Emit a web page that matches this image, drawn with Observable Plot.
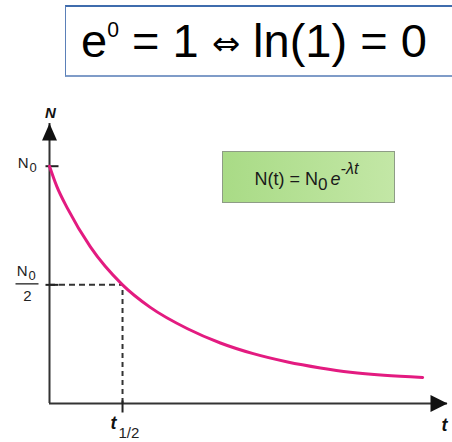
<!DOCTYPE html>
<html>
<head>
<meta charset="utf-8">
<script src="https://cdn.jsdelivr.net/npm/d3@7"></script>
<script src="https://cdn.jsdelivr.net/npm/@observablehq/plot@0.6"></script>
<style>
  html, body { margin: 0; padding: 0; background: #fff; overflow: hidden; }
  body { width: 452px; height: 442px; position: relative; font-family: "Liberation Sans", Arial, sans-serif; }
  #identity { position: absolute; left: 65px; top: 5px; width: 387px; height: 72px; box-sizing: border-box;
    border-top: 2px solid #3f6cad; border-left: 1.5px solid #5b80b8; border-bottom: 2px solid #7f9cc8;
    font-size: 47px; line-height: 68px; padding-left: 15px; color: #000; white-space: nowrap; }
  #identity sup { font-size: 0.45em; vertical-align: 0; position: relative; top: -0.95em; }
  #identity .iff { font-family: "DejaVu Sans", sans-serif; font-size: 0.72em; position: relative; top: -0.06em; }
  #header { height: 82px; }
  #chart svg { display: block; }
  #formula { position: absolute; left: 222px; top: 151px; width: 173px; height: 52px; box-sizing: border-box;
    border: 1px solid #8e9c86; background: linear-gradient(to right, #a9db86, #c3e7a6);
    font-size: 18px; color: #1a1a1a; display: flex; align-items: center; justify-content: center; white-space: nowrap; }
  #formula .expr { position: relative; top: 2px; left: -2px; }
  #formula sub { font-size: 0.95em; vertical-align: -0.3em; line-height: 0; }
  #formula sup { font-size: 0.9em; vertical-align: 0.7em; line-height: 0; font-style: italic; }
  #formula .e { font-style: italic; margin-left: 3px; }
</style>
</head>
<body>
<div id="header"><div id="identity"></div></div>
<div id="chart"></div>
<div id="formula"></div>
<script>
// Decay curve N(t), with t in half-lives and N as a fraction of N0
const tValues = [0, 0.1, 0.25, 0.56, 1.0, 1.38, 1.89, 2.34, 2.79, 3.26, 3.71, 4.12, 4.58, 5.11];
const nValues = [1.0, 0.915, 0.82, 0.66, 0.50, 0.405, 0.315, 0.255, 0.21, 0.175, 0.15, 0.132, 0.119, 0.110];

// Axis extents (arrow tips) and marked points
const tMax = 5.45;
const nMax = 1.18;
const n0 = 1;
const nHalf = 0.5;
const tHalf = 1;

// Texts
const yAxisName = "N";
const xAxisName = "t";
const n0Label = ["N", "0"];
const halfDenominator = "2";
const tHalfLabel = ["t", "1/2"];
const identityHtml = "e<sup>0</sup> = 1 <span class='iff'>\u21d4</span> ln(1) = 0";
const formulaHtml = "<span class='expr'>N(t) = N<sub>0</sub><span class='e'>e</span><sup>-\u03bbt</sup></span>";

document.getElementById("identity").innerHTML = identityHtml;
document.getElementById("formula").innerHTML = formulaHtml;

const ink = "#333";
const curveColor = "#e31b80";
const font = "Liberation Sans, Arial, sans-serif";

// Custom symbols: filled arrowheads (tip at the anchor) and short tick strokes
const arrowUp = {draw(c) { c.moveTo(0, 0); c.lineTo(7.5, 17); c.lineTo(-7.5, 17); c.closePath(); }};
const arrowRight = {draw(c) { c.moveTo(0, 0); c.lineTo(-17, -8.5); c.lineTo(-17, 8.5); c.closePath(); }};
const tickRight = {draw(c) { c.moveTo(-4, 0); c.lineTo(9, 0); }};
const tickDown = {draw(c) { c.moveTo(0, -3); c.lineTo(0, 9); }};
const fractionBar = {draw(c) { c.moveTo(-34, -1); c.lineTo(-11, -1); }};

const idx = d3.range(tValues.length);

const chart = Plot.plot({
  width: 452,
  height: 360,
  marginLeft: 49,
  marginRight: 5,
  marginTop: 41,
  marginBottom: 39,
  x: {domain: [0, tMax], axis: null},
  y: {domain: [0, nMax], axis: null},
  style: {fontFamily: font, background: "transparent"},
  marks: [
    // dashed guides to the half-life point
    Plot.ruleY([nHalf], {x1: 0, x2: tHalf, stroke: ink, strokeWidth: 2, strokeDasharray: "6,4"}),
    Plot.ruleX([tHalf], {y1: 0, y2: nHalf, stroke: ink, strokeWidth: 2, strokeDasharray: "5,4"}),
    // axes
    Plot.ruleY([0], {x1: 0, x2: tMax, stroke: ink, strokeWidth: 2}),
    Plot.ruleX([0], {y1: 0, y2: nMax, stroke: ink, strokeWidth: 2}),
    Plot.dot([[tMax, 0]], {x: d => d[0], y: d => d[1], symbol: arrowRight, fill: "#111", stroke: "none"}),
    Plot.dot([[0, nMax]], {x: d => d[0], y: d => d[1], symbol: arrowUp, fill: "#111", stroke: "none"}),
    // ticks
    Plot.dot([n0, nHalf], {x: 0, y: d => d, symbol: tickRight, fill: "none", stroke: "#222", strokeWidth: 2}),
    Plot.dot([tHalf], {x: d => d, y: 0, symbol: tickDown, fill: "none", stroke: "#222", strokeWidth: 2}),
    Plot.dot([nHalf], {x: 0, y: d => d, symbol: fractionBar, fill: "none", stroke: "#222", strokeWidth: 1.3}),
    // decay curve
    Plot.line(idx, {x: i => tValues[i], y: i => nValues[i], curve: "monotone-x", stroke: curveColor, strokeWidth: 3}),
    // axis names
    Plot.text([yAxisName], {x: 0, y: nMax, text: d => d, textAnchor: "middle", lineAnchor: "bottom", dx: 1, dy: -6,
      fontSize: 15, fontStyle: "italic", fontWeight: "bold", fill: "#111"}),
    Plot.text([xAxisName], {x: tMax, y: 0, text: d => d, textAnchor: "middle", lineAnchor: "bottom", dx: -3, dy: 27,
      fontSize: 18, fontStyle: "italic", fontWeight: "bold", fill: "#111"}),
    // N0 label
    Plot.text([n0Label[0]], {x: 0, y: n0, text: d => d, textAnchor: "end", lineAnchor: "bottom", dx: -21, dy: 2,
      fontSize: 15, fill: "#222"}),
    Plot.text([n0Label[1]], {x: 0, y: n0, text: d => d, textAnchor: "start", lineAnchor: "bottom", dx: -20, dy: 6,
      fontSize: 13, fill: "#222"}),
    // N0 / 2 label
    Plot.text([n0Label[0]], {x: 0, y: nHalf, text: d => d, textAnchor: "end", lineAnchor: "bottom", dx: -22, dy: -9,
      fontSize: 15, fill: "#222"}),
    Plot.text([n0Label[1]], {x: 0, y: nHalf, text: d => d, textAnchor: "start", lineAnchor: "bottom", dx: -21, dy: -5,
      fontSize: 13, fill: "#222"}),
    Plot.text([halfDenominator], {x: 0, y: nHalf, text: d => d, textAnchor: "middle", lineAnchor: "bottom", dx: -22, dy: 16,
      fontSize: 15, fill: "#222"}),
    // t1/2 label
    Plot.text([tHalfLabel[0]], {x: tHalf, y: 0, text: d => d, textAnchor: "end", lineAnchor: "bottom", dx: -6, dy: 25,
      fontSize: 18, fontStyle: "italic", fontWeight: "bold", fill: "#111"}),
    Plot.text([tHalfLabel[1]], {x: tHalf, y: 0, text: d => d, textAnchor: "start", lineAnchor: "bottom", dx: -4, dy: 34,
      fontSize: 15, fill: "#222"})
  ]
});
document.getElementById("chart").append(chart);
</script>
</body>
</html>
